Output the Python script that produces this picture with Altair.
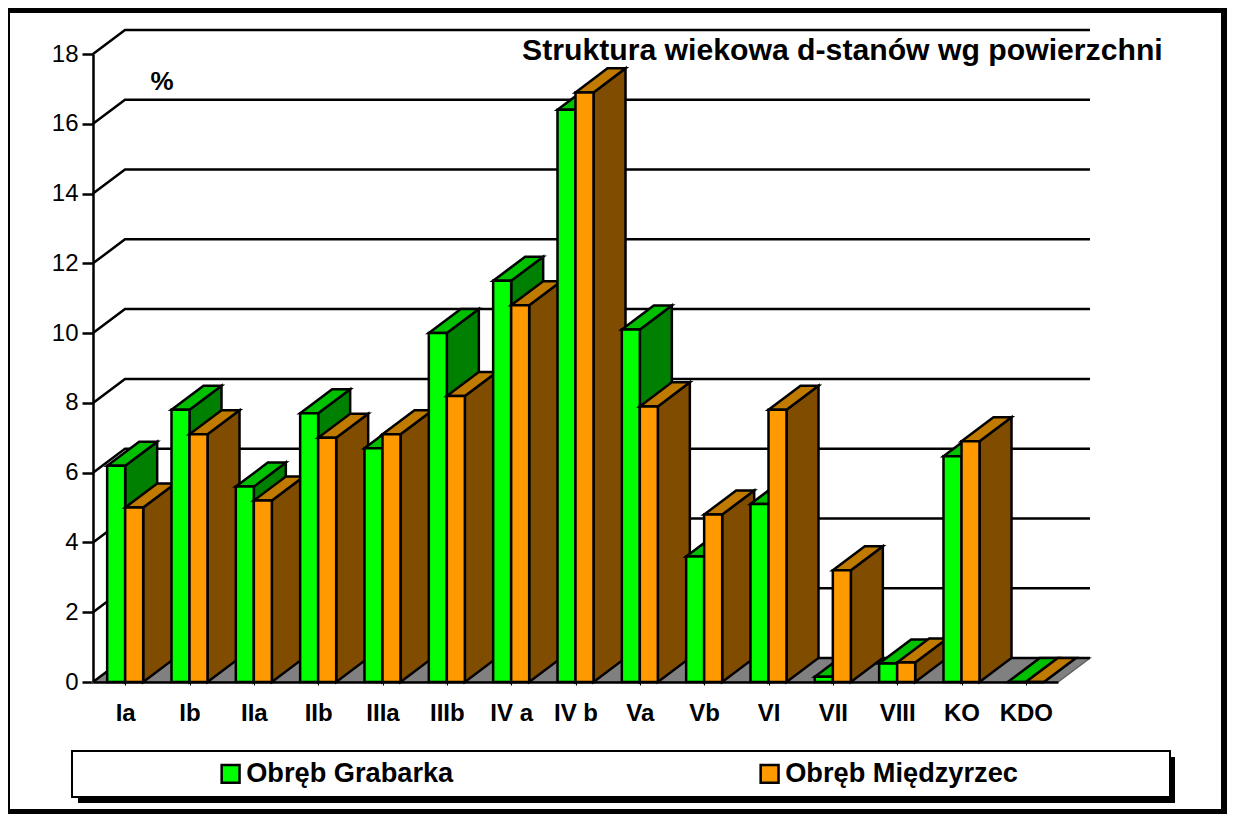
import altair as alt
import pandas as pd

categories = ["Ia", "Ib", "IIa", "IIb", "IIIa", "IIIb", "IV a", "IV b", "Va", "Vb", "VI", "VII", "VIII", "KO", "KDO"]
grabarka = [6.2, 7.8, 5.6, 7.7, 6.7, 10.0, 11.5, 16.4, 10.1, 3.6, 5.1, 0.15, 0.53, 6.47, 0.0]
miedzyrzec = [5.0, 7.1, 5.2, 7.0, 7.1, 8.2, 10.8, 16.9, 7.9, 4.8, 7.8, 3.2, 0.56, 6.9, 0.0]
series_names = ["Obręb Grabarka", "Obręb Międzyrzec"]
front_colors = ["#00FF00", "#FF9900"]
top_colors = ["#00C000", "#C07A00"]
side_colors = ["#008000", "#804C00"]
floor_color = "#808080"
y_ticks = [0, 2, 4, 6, 8, 10, 12, 14, 16, 18]
title_text = "Struktura wiekowa d-stanów wg powierzchni"

DX, DY = 0.4974, 0.688   # depth of the 3-D box, in scale units
BAR = 0.28
N = len(categories)

rows, pid = [], 0
def poly(points, color):
    global pid
    for k, (px, py) in enumerate(points):
        rows.append({"poly": pid, "pt": k, "x": px, "y": py, "fill": color})
    pid += 1

for i in range(N):
    c = i + 0.5
    for s, vals in enumerate([grabarka, miedzyrzec]):
        a = c - BAR + s * BAR
        b = a + BAR
        v = vals[i]
        poly([(b, 0), (b + DX, DY), (b + DX, v + DY), (b, v)], side_colors[s])
        poly([(a, v), (b, v), (b + DX, v + DY), (a + DX, v + DY)], top_colors[s])
        poly([(a, 0), (b, 0), (b, v), (a, v)], front_colors[s])
bars = pd.DataFrame(rows)

floor = pd.DataFrame([
    {"pt": 0, "x": 0, "y": 0}, {"pt": 1, "x": N, "y": 0},
    {"pt": 2, "x": N + DX, "y": DY}, {"pt": 3, "x": DX, "y": DY}])

grid_rows = []
for t in y_ticks:
    grid_rows += [{"t": t, "pt": 0, "x": 0, "y": t},
                  {"t": t, "pt": 1, "x": DX, "y": t + DY},
                  {"t": t, "pt": 2, "x": N + DX, "y": t + DY}]
grid = pd.DataFrame(grid_rows)

xs = alt.Scale(domain=[0, N], nice=False, zero=False)
ys = alt.Scale(domain=[0, 18], nice=False, zero=False)

labels_js = "[" + ",".join("'%s'" % c for c in categories) + "]"
x_axis = alt.Axis(values=[i + 0.5 for i in range(N)], labelExpr=labels_js + "[floor(datum.value)]",
                  title=None, grid=False, labelFont="Liberation Sans", labelFontWeight="bold",
                  labelFontSize=24, labelColor="black", labelPadding=16, labelAngle=0,
                  domainColor="black", domainWidth=2.5, tickColor="black", tickWidth=1, tickSize=3,
                  labelOverlap=False, labelBound=False, labelFlush=False, zindex=1)
y_axis = alt.Axis(values=y_ticks, title=None, grid=False, labelFont="Liberation Sans", labelFontSize=24,
                  labelColor="black", labelPadding=4, domainColor="black", domainWidth=2.5,
                  tickColor="black", tickWidth=2.5, tickSize=11, format="d")
X = alt.X("x:Q", scale=xs, axis=x_axis)
Y = alt.Y("y:Q", scale=ys, axis=y_axis)

legend_df = pd.DataFrame({"series": series_names, "x": [0.5, 0.5], "y": [0, 0]})
axes_layer = alt.Chart(legend_df).mark_square(size=1, opacity=1).encode(
    x=X, y=Y,
    color=alt.Color("series:N", scale=alt.Scale(domain=series_names, range=front_colors),
                    legend=alt.Legend(orient="none", legendX=124, legendY=706, direction="horizontal",
                                      title=None, symbolType="square", symbolSize=320, symbolOpacity=1,
                                      symbolStrokeColor="black", symbolStrokeWidth=2.5,
                                      labelFont="Liberation Sans", labelFontWeight="bold",
                                      labelFontSize=27.2, labelColor="black", labelOffset=2,
                                      columnPadding=301, labelLimit=400, padding=0)),
)

floor_layer = alt.Chart(floor).mark_line(interpolate="linear-closed", fill=floor_color, stroke="#606060", strokeWidth=1.5).encode(
    x=X, y=Y, order=alt.Order("pt:Q"))
grid_layer = alt.Chart(grid).mark_line(stroke="black", strokeWidth=2.5).encode(
    x=X, y=Y, detail="t:N", order=alt.Order("pt:Q"))
bar_layer = alt.Chart(bars).mark_line(interpolate="linear-closed", stroke="black", strokeWidth=2.5, strokeJoin="miter").encode(
    x=X, y=Y, detail="poly:N", order=alt.Order("pt:Q"),
    fill=alt.Fill("fill:N", scale=None, legend=None))

one = pd.DataFrame({"a": [1]})
def box(x1, x2, y1, y2, **kw):
    return alt.Chart(one).mark_rect(**kw).encode(
        x=alt.value(x1), x2=alt.value(x2), y=alt.value(y1), y2=alt.value(y2))

# plot origin sits at page (93, 54)
frame = box(6.5 - 93, 1224.5 - 93, 9.5 - 54, 812.5 - 54, fill="white", fillOpacity=0, stroke="black", strokeWidth=7)
shadow = box(78 - 93, 1175 - 93, 757 - 54, 803 - 54, fill="black")
legend_box = box(72 - 93, 1170 - 93, 751 - 54, 797 - 54, fill="white", stroke="black", strokeWidth=2)
pct = alt.Chart(pd.DataFrame({"t": ["%"]})).mark_text(
    font="Liberation Sans", fontWeight="bold", fontSize=26, color="black", align="center", baseline="middle"
).encode(x=alt.value(162 - 93), y=alt.value(82 - 54), text="t:N")

chart = alt.layer(axes_layer, floor_layer, grid_layer, bar_layer, frame, shadow, legend_box, pct).resolve_scale(
    fill="independent", color="independent"
).properties(
    width=965, height=628,
    padding={"left": 85, "top": 46, "right": 169, "bottom": 132},
    autosize=alt.AutoSizeParams(type="none"),
    background="white",
    title=alt.TitleParams(title_text, anchor="start", font="Liberation Sans", fontWeight="bold", fontSize=30.2,
                          color="black", dx=429, dy=60, frame="group", offset=0),
).configure_view(stroke=None)

chart.save("out.html", embed_options={"renderer": "svg", "actions": False})
